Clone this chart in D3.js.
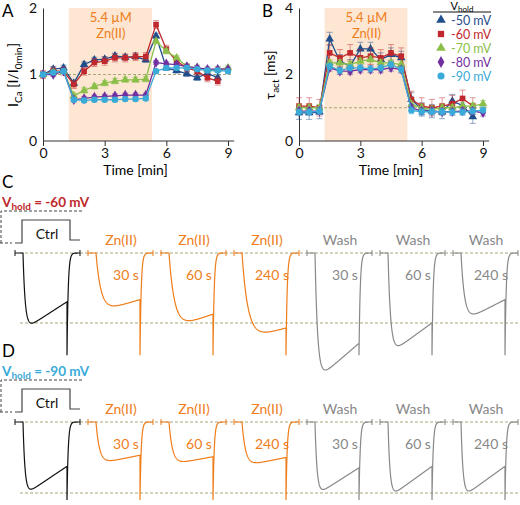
<!DOCTYPE html>
<html><head><meta charset="utf-8">
<script src="https://cdn.jsdelivr.net/npm/d3@7"></script>
<style>body{margin:0;background:#fff}svg{font-family:Lato,"Open Sans",sans-serif}</style>
</head><body><svg id="fig" width="520" height="505"></svg>
<script>
// ---- panel A/B data ----
const timesA = [0,0.5,1,1.5,2,2.5,3,3.5,4,4.5,5,5.5,6,6.5,7,7.5,8,8.5,9];
const vholdLabels = ['-50 mV','-60 mV','-70 mV','-80 mV','-90 mV'];
const seriesColors = ['#1f4e8c','#c0282d','#8cbf4a','#7030a0','#3aabd8'];
const seriesSymbols = [d3.symbolTriangle, d3.symbolSquare, d3.symbolTriangle, d3.symbolDiamond, d3.symbolCircle];

const ica50 = [1.0,1.08,1.1,0.87,1.15,1.22,1.23,1.28,1.26,1.27,1.22,1.58,1.1,1.06,1.01,0.95,1.02,0.95];
const ica60 = [1.0,1.05,1.05,0.85,1.05,1.18,1.2,1.25,1.25,1.27,1.27,1.75,1.38,1.2,1.1,1.05,0.95,0.9];
const ica70 = [1.0,1.03,1.05,0.68,0.76,0.82,0.87,0.9,0.92,0.92,0.93,1.5,1.35,1.25,1.12,1.1,1.07,1.08,1.1];
const ica80 = [1.0,1.0,1.05,0.62,0.64,0.66,0.67,0.68,0.69,0.69,0.69,1.18,1.16,1.15,1.12,1.1,1.08,1.08,1.08];
const ica90 = [1.0,1.03,1.05,0.62,0.61,0.62,0.62,0.62,0.63,0.63,0.64,1.05,1.1,1.1,1.1,1.08,1.06,1.06,1.05];
const icaErr = [0.04,0.06,0.04,0.03,0.03];

const tau50 = [0.85,0.85,0.87,3.07,2.4,2.25,2.77,2.77,2.45,2.6,2.5,1.25,0.95,0.9,0.87,1.2,1.07,0.73];
const tau60 = [1.05,1.05,1.0,2.65,2.5,2.65,2.5,2.55,2.5,2.65,2.55,1.25,1.05,1.0,1.05,1.12,1.28,1.05];
const tau70 = [1.0,1.0,1.0,2.35,2.35,2.3,2.4,2.45,2.35,2.35,2.3,1.1,1.0,0.95,1.0,1.0,1.05,1.05,1.12];
const tau80 = [0.9,0.9,0.9,2.2,2.1,2.1,2.15,2.15,2.15,2.2,2.15,1.0,0.9,0.9,0.88,0.88,0.9,0.9,0.85];
const tau90 = [0.87,0.87,0.9,2.25,2.12,2.2,2.2,2.17,2.2,2.3,2.15,0.92,0.88,0.88,0.88,0.87,0.87,0.9,0.93];
const tauErr = [0.2,0.25,0.1,0.1,0.1];

const zincWindow = [1.25, 5.3];
const xTicks = [0, 3, 6, 9];

// ---- panel C/D traces (normalised to lower dashed line) ----
const traceNames = ['Ctrl','Zn(II)','Zn(II)','Zn(II)','Wash','Wash','Wash'];
const traceTimes = ['', '30 s','60 s','240 s','30 s','60 s','240 s'];
const traceColors = ['#111','#ee7d1a','#ee7d1a','#ee7d1a','#888','#888','#888'];
const peakC = [1.06,0.82,1.05,1.2,1.76,1.4,0.95];
const endC  = [0.67,0.64,0.84,1.03,1.24,0.96,0.64];
const riseC = [2.2,5,5.5,6,2.6,2.6,3.5];
const peakD = [1.0,0.57,0.58,0.6,1.0,1.03,1.03];
const endD  = [0.6,0.45,0.47,0.48,0.62,0.6,0.6];
const riseD = [2,3.5,3.5,3.5,2,2,2];

const svg = d3.select('#fig');
const orange = '#ee7d1a', dashCol = '#aaa57a';

function panelPlot(opt) {
  const x = d3.scaleLinear().domain([0, 9]).range([opt.x0, opt.x1]);
  const y = d3.scaleLinear().domain([0, opt.ymax]).range([141, 8]);
  const g = svg.append('g');
  g.append('rect').attr('x', x(zincWindow[0])).attr('y', 8)
    .attr('width', x(zincWindow[1]) - x(zincWindow[0])).attr('height', 133).attr('fill', '#fde6d2');
  g.append('text').attr('x', x(3.3)).attr('y', 22).attr('text-anchor', 'middle')
    .attr('fill', orange).attr('font-size', 13).text('5.4 µM');
  g.append('text').attr('x', x(3.3)).attr('y', 38).attr('text-anchor', 'middle')
    .attr('fill', orange).attr('font-size', 13).text('Zn(II)');
  g.append('line').attr('x1', x(0)).attr('x2', x(9.2)).attr('y1', y(1)).attr('y2', y(1))
    .attr('stroke', dashCol).attr('stroke-dasharray', '3,2');
  const ax = g.append('g').attr('transform', 'translate(0,141)')
    .call(d3.axisBottom(x).tickValues(xTicks).tickSize(5).tickPadding(2).tickSizeOuter(0));
  const ay = g.append('g').attr('transform', `translate(${opt.x0},0)`)
    .call(d3.axisLeft(y).tickValues(opt.yTicks).tickFormat(d3.format('d')).tickSize(0).tickPadding(6));
  [ax, ay].forEach(a => {
    a.selectAll('text').attr('font-size', 14).attr('fill', '#111').attr('font-family', 'Lato');
    a.selectAll('path,line').attr('stroke', '#333');
  });
  ax.select('.domain').attr('d', `M${opt.x0},0H${x(9.3)}`);
  g.append('text').attr('x', x(4.5)).attr('y', 175).attr('text-anchor', 'middle')
    .attr('font-size', 14).text('Time [min]');
  opt.series.forEach((vals, i) => {
    const pts = vals.map((v, k) => [timesA[k], v]);
    g.append('path').attr('d', d3.line().x(d => x(d[0])).y(d => y(d[1]))(pts))
      .attr('fill', 'none').attr('stroke', seriesColors[i]).attr('stroke-width', 1.3);
    pts.forEach(d => {
      g.append('path').attr('d', `M${x(d[0])},${y(d[1] - opt.err[i])}V${y(d[1] + opt.err[i])}M${x(d[0]) - 3},${y(d[1] + opt.err[i])}h6M${x(d[0]) - 3},${y(d[1] - opt.err[i])}h6`)
        .attr('stroke', seriesColors[i]).attr('stroke-width', 0.8).attr('opacity', 0.6);
    });
    g.selectAll(null).data(pts).enter().append('path')
      .attr('transform', d => `translate(${x(d[0])},${y(d[1])})`)
      .attr('d', d3.symbol().type(seriesSymbols[i]).size(32)).attr('fill', seriesColors[i]);
  });
  return g;
}

const gA = panelPlot({x0: 43, x1: 228, ymax: 2, yTicks: [0,1,2],
  series: [ica50, ica60, ica70, ica80, ica90], err: icaErr});
gA.append('text').attr('transform', 'translate(18,75) rotate(-90)').attr('text-anchor', 'middle')
  .attr('font-size', 14).html('I<tspan font-size="10" dy="4">Ca</tspan><tspan dy="-4"> [I/I</tspan><tspan font-size="10" dy="4">0min</tspan><tspan dy="-4">]</tspan>');
const gB = panelPlot({x0: 299, x1: 483, ymax: 4, yTicks: [0,2,4],
  series: [tau50, tau60, tau70, tau80, tau90], err: tauErr});
gB.append('text').attr('transform', 'translate(275,75) rotate(-90)').attr('text-anchor', 'middle')
  .attr('font-size', 14).html('τ<tspan font-size="10" dy="4">act</tspan><tspan dy="-4"> [ms]</tspan>');

// legend
svg.append('line').attr('x1', 433).attr('x2', 491).attr('y1', 12).attr('y2', 12).attr('stroke', '#111');
svg.append('text').attr('x', 462).attr('y', 10).attr('text-anchor', 'middle').attr('font-size', 11)
  .html('V<tspan font-size="8" dy="2">hold</tspan>');
vholdLabels.forEach((lab, i) => {
  const yy = 20 + i * 14;
  svg.append('path').attr('transform', `translate(441,${yy})`)
    .attr('d', d3.symbol().type(seriesSymbols[i]).size(40)).attr('fill', seriesColors[i]);
  svg.append('text').attr('x', 451).attr('y', yy + 4.5).attr('font-size', 12.5)
    .attr('fill', seriesColors[i]).text(lab);
});

// panel letters
[['A',2,17],['B',262,17],['C',2,188],['D',2,357]].forEach(([t, px, py]) =>
  svg.append('text').attr('x', px).attr('y', py).attr('font-size', 17).text(t));

// ---- current traces ----
function tracePanel(opt) {
  const y = d3.scaleLinear().domain([0, 1]).range([opt.base, opt.low]);
  const g = svg.append('g');
  [0, 1].forEach(v => g.append('line').attr('x1', 20).attr('x2', 520).attr('y1', y(v)).attr('y2', y(v))
    .attr('stroke', dashCol).attr('stroke-dasharray', '3,2'));
  // voltage protocol
  const vt = opt.base - 10;
  g.append('path').attr('d', `M0,${vt}H12M1,${vt}V${vt - 32}H83`).attr('fill', 'none')
    .attr('stroke', '#444').attr('stroke-dasharray', '3,2');
  g.append('path').attr('d', `M15,${vt}H22V${vt - 23}H70V${vt - 3}H80`).attr('fill', 'none')
    .attr('stroke', '#444').attr('stroke-width', 1.2);
  g.append('text').attr('x', 2).attr('y', vt - 36).attr('font-size', 13.5).attr('font-weight', 'bold')
    .attr('fill', opt.color).html(`V<tspan font-size="10" dy="3">hold</tspan><tspan dy="-3"> = ${opt.v}</tspan>`);
  const ts = d3.range(0, 65.01, 0.25);
  traceNames.forEach((name, i) => {
    const x = d3.scaleLinear().domain([0, 65]).range([15 + i * 73, 80 + i * 73]);
    const amp = t => {
      if (t < 8) return 0;
      if (t <= 52) {
        const a = opt.peak[i] + (opt.end[i] - opt.peak[i]) * (t - 8) / 44;
        return a * (1 - Math.exp(-(t - 8) / opt.rise[i])) * 1.04;
      }
      return opt.tail * Math.exp(-(t - 52) / 1.2);
    };
    const pts = ts.map(t => [t, amp(t)]);
    pts.splice(pts.findIndex(p => p[0] > 52), 0, [52, opt.tail]);
    g.append('path').attr('d', d3.line().x(d => x(d[0])).y(d => y(d[1]))(pts))
      .attr('fill', 'none').attr('stroke', traceColors[i]).attr('stroke-width', 1.2);
    g.append('path').attr('d', `M${x(0)},${y(0) - 3}v6M${x(65)},${y(0) - 3}v6`).attr('stroke', traceColors[i]);
    const lc = i === 0 ? '#111' : traceColors[i];
    g.append('text').attr('x', i === 0 ? 47 : x(33)).attr('y', i === 0 ? vt - 4 : opt.base - 8)
      .attr('text-anchor', 'middle').attr('font-size', 14).attr('fill', lc).text(name);
    if (traceTimes[i]) g.append('text').attr('x', x(38)).attr('y', opt.base + 27)
      .attr('text-anchor', 'middle').attr('font-size', 14).attr('fill', lc).text(traceTimes[i]);
  });
}
tracePanel({base: 253, low: 323, color: '#c0282d', v: '-60 mV', peak: peakC, end: endC, rise: riseC, tail: 1.46});
tracePanel({base: 422, low: 493, color: '#3aabd8', v: '-90 mV', peak: peakD, end: endD, rise: riseD, tail: 1.1});
</script></body></html>
